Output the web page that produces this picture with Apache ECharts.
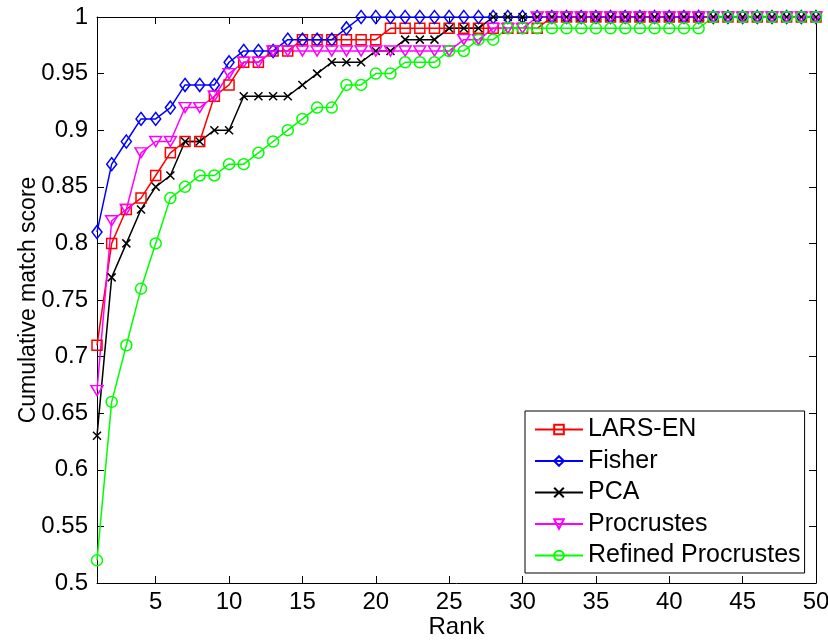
<!DOCTYPE html>
<html>
<head>
	<meta charset="utf-8">
	<title>Cumulative match score</title>
	<script src="https://cdn.jsdelivr.net/npm/echarts@6/dist/echarts.min.js"></script>
	<style>
	html, body { margin: 0; padding: 0; background: #fff; }
	#chart { width: 828px; height: 641px; }
	</style>
</head>
<body>
<div id="chart"></div>
<script>
var ranks = [1,2,3,4,5,6,7,8,9,10,11,12,13,14,15,16,17,18,19,20,21,22,23,24,25,
	26,27,28,29,30,31,32,33,34,35,36,37,38,39,40,41,42,43,44,45,46,47,48,49,50];
var rankTicks = [5,10,15,20,25,30,35,40,45,50];

var larsEn = [0.71,0.80,0.83,0.84,0.86,0.88,0.89,0.89,0.93,0.94,0.96,0.96,0.97,0.97,
	0.98,0.98,0.98,0.98,0.98,0.98,
	0.99,0.99,0.99,0.99,0.99,0.99,0.99,0.99,0.99,0.99,0.99,
	1,1,1,1,1,1,1,1,1,1,1,1,1,1,1,1,1,1,1];
var fisher = [0.81,0.87,0.89,0.91,0.91,0.92,0.94,0.94,0.94,0.96,0.97,0.97,0.97,
	0.98,0.98,0.98,0.98,0.99,
	1,1,1,1,1,1,1,1,1,1,1,1,1,1,1,1,1,1,1,1,1,1,1,1,1,1,1,1,1,1,1,1];
var pca = [0.63,0.77,0.80,0.83,0.85,0.86,0.89,0.89,0.90,0.90,0.93,0.93,0.93,0.93,
	0.94,0.95,0.96,0.96,0.96,0.97,0.97,0.98,0.98,0.98,0.99,0.99,0.99,
	1,1,1,1,1,1,1,1,1,1,1,1,1,1,1,1,1,1,1,1,1,1,1];
var procrustes = [0.67,0.82,0.83,0.88,0.89,0.89,0.92,0.92,0.93,0.95,0.96,0.96,
	0.97,0.97,0.97,0.97,0.97,0.97,0.97,0.97,0.97,0.97,0.97,0.97,0.97,
	0.98,0.98,0.99,0.99,0.99,
	1,1,1,1,1,1,1,1,1,1,1,1,1,1,1,1,1,1,1,1];
var refined = [0.52,0.66,0.71,0.76,0.80,0.84,0.85,0.86,0.86,0.87,0.87,0.88,0.89,0.90,
	0.91,0.92,0.92,0.94,0.94,0.95,0.95,0.96,0.96,0.96,0.97,0.97,0.98,0.98,
	0.99,0.99,0.99,0.99,0.99,0.99,0.99,0.99,0.99,0.99,0.99,0.99,0.99,0.99,
	1,1,1,1,1,1,1,1];

var fontName = '"Liberation Sans", Arial, Helvetica, sans-serif';

function pairs(vals) {
	var out = [];
	for (var i = 0; i < vals.length; i++) out.push([ranks[i], vals[i]]);
	return out;
}

function mkSeries(name, vals, color, symbol, size) {
	return {
		name: name,
		type: 'line',
		data: pairs(vals),
		symbol: symbol,
		symbolSize: size,
		showAllSymbol: true,
		animation: false,
		lineStyle: { color: color, width: 1.5 },
		itemStyle: { color: 'rgba(0,0,0,0)', borderColor: color, borderWidth: 1.5 }
	};
}

var chart = echarts.init(document.getElementById('chart'));

var option = {
	backgroundColor: '#fff',
	textStyle: { fontFamily: fontName },
	// 不让 v6 自动缩进绘图区
	grid: { left: 97, right: 12, top: 17, bottom: 58, outerBoundsMode: 'none', containLabel: false },
	legend: {
		orient: 'vertical',
		left: 525,
		top: 411,
		padding: [6, 4, 5, 9],
		backgroundColor: '#fff',
		borderColor: '#000',
		borderWidth: 1,
		itemWidth: 48,
		itemHeight: 12,
		itemGap: 6.5,
		textStyle: { fontSize: 25, color: '#000', fontFamily: fontName, lineHeight: 25 },
		data: ['LARS-EN', 'Fisher', 'PCA', 'Procrustes', 'Refined Procrustes']
	},
	xAxis: [{
		type: 'value',
		min: 1,
		max: 50,
		name: 'Rank',
		nameLocation: 'middle',
		nameGap: 32,
		nameMoveOverlap: false,
		nameTextStyle: { fontSize: 24, color: '#000', fontFamily: fontName },
		axisLine: { lineStyle: { color: '#000', width: 1 } },
		axisTick: { inside: true, length: 7, customValues: rankTicks, lineStyle: { color: '#000' } },
		axisLabel: { customValues: rankTicks, fontSize: 24, color: '#000', margin: 7, fontFamily: fontName },
		splitLine: { show: false }
	}, {
		type: 'value',
		position: 'top',
		min: 1,
		max: 50,
		axisLine: { show: true, lineStyle: { color: '#000', width: 1 } },
		axisTick: { show: true, inside: true, length: 7, customValues: rankTicks, lineStyle: { color: '#000' } },
		axisLabel: { show: false },
		splitLine: { show: false }
	}],
	yAxis: [{
		type: 'value',
		min: 0.5,
		max: 1,
		interval: 0.05,
		name: 'Cumulative match score',
		nameLocation: 'middle',
		nameGap: 57,
		nameMoveOverlap: false,
		nameTextStyle: { fontSize: 23, color: '#000', fontFamily: fontName },
		axisLine: { show: true, lineStyle: { color: '#000', width: 1 } },
		axisTick: { show: true, inside: true, length: 7, lineStyle: { color: '#000' } },
		axisLabel: {
			fontSize: 24, color: '#000', margin: 9, fontFamily: fontName,
			formatter: function (v) { return String(+v.toFixed(2)); }
		},
		splitLine: { show: false }
	}, {
		type: 'value',
		position: 'right',
		min: 0.5,
		max: 1,
		interval: 0.05,
		axisLine: { show: true, lineStyle: { color: '#000', width: 1 } },
		axisTick: { show: true, inside: true, length: 7, lineStyle: { color: '#000' } },
		axisLabel: { show: false },
		splitLine: { show: false }
	}],
	series: [
		mkSeries('LARS-EN', larsEn, '#ff0000', 'rect', 10),
		mkSeries('Fisher', fisher, '#0000ff', 'diamond', [10, 13]),
		mkSeries('PCA', pca, '#000000', 'path://M0,0L10,10M10,0L0,10', 8),
		mkSeries('Procrustes', procrustes, '#ff00ff', 'path://M0,0L10,0L5,8.66Z', [12, 10]),
		mkSeries('Refined Procrustes', refined, '#00ff00', 'circle', 11)
	]
};

chart.setOption(option);
</script>
</body>
</html>
